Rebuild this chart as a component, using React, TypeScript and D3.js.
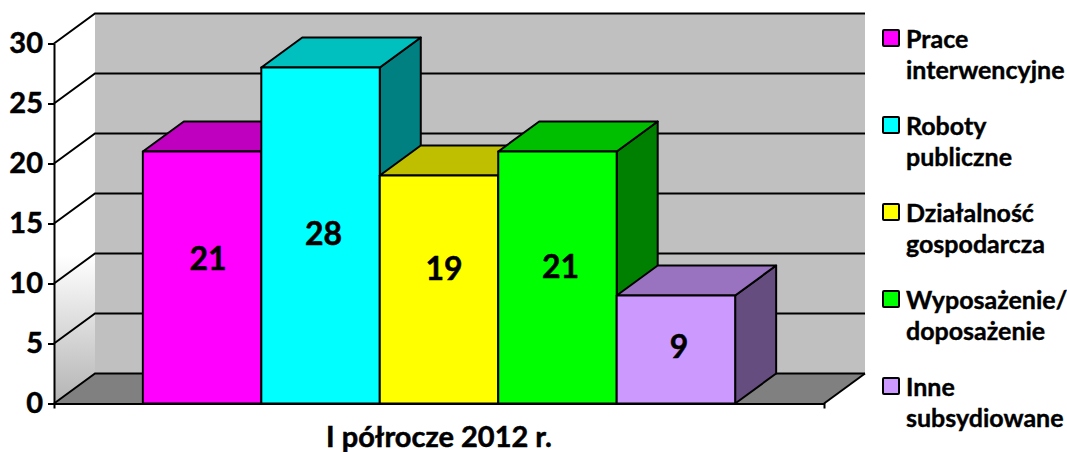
import * as d3 from "d3";
import React, { useRef, useEffect } from "react";

const seriesNames = ["Prace interwencyjne", "Roboty publiczne", "Działalność gospodarcza", "Wyposażenie/ doposażenie", "Inne subsydiowane"];
const seriesValues = [21, 28, 19, 21, 9];
const seriesColors = ["#ff00ff", "#00ffff", "#ffff00", "#00ff00", "#cc99ff"];
const legendLines = [
  ["Prace", "interwencyjne"],
  ["Roboty", "publiczne"],
  ["Działalność", "gospodarcza"],
  ["Wyposażenie/", "doposażenie"],
  ["Inne", "subsydiowane"],
];
const yTicks = [0, 5, 10, 15, 20, 25, 30];
const categoryLabel = "I półrocze 2012 r.";

const WIDTH = 1067;
const HEIGHT = 452;
const FONT = "Lato, 'Open Sans', sans-serif";
const left = 54;
const right = 824;
const bottom = 403.5;
const top = 43.5;
// 3D depth of the box
const dx = 41;
const dy = -30;
// data labels sit a little off the bar centres in the original
const labelNudge = [
  [6, -19],
  [3, -2],
  [5, -21],
  [3, -11],
  [3, -3],
];

function shade(color: string, k: number) {
  const c = d3.rgb(color);
  return d3.rgb(c.r * k, c.g * k, c.b * k).formatHex();
}

export default function App() {
  const ref = useRef<SVGSVGElement>(null);

  useEffect(() => {
    const svg = d3.select(ref.current);
    svg.selectAll("*").remove();

    const y = d3.scaleLinear().domain([0, 30]).range([bottom, top]);
    const x = d3
      .scaleBand()
      .domain(seriesNames)
      .range([left, right])
      .paddingInner(0)
      .paddingOuter(0.75);
    const line = d3.line();

    const grad = svg
      .append("defs")
      .append("linearGradient")
      .attr("id", "wall")
      .attr("x1", 0)
      .attr("y1", 0)
      .attr("x2", 0)
      .attr("y2", 1);
    grad.append("stop").attr("offset", "0.62").attr("stop-color", "#ffffff");
    grad.append("stop").attr("offset", "1").attr("stop-color", "#b4b4b4");

    // walls and floor
    svg
      .append("path")
      .attr("d", line([[left + dx, y(30) + dy], [right + dx, y(30) + dy], [right + dx, y(0) + dy], [left + dx, y(0) + dy]]) + "Z")
      .attr("fill", "#c0c0c0");
    svg
      .append("path")
      .attr("d", line([[left, y(30)], [left + dx, y(30) + dy], [left + dx, y(0) + dy], [left, y(0)]]) + "Z")
      .attr("fill", "url(#wall)");
    svg
      .append("path")
      .attr("d", line([[left, y(0)], [left + dx, y(0) + dy], [right + dx, y(0) + dy], [right, y(0)]]) + "Z")
      .attr("fill", "#808080");

    // gridlines, running over the left wall and along the back wall
    svg
      .append("g")
      .selectAll("path")
      .data(yTicks)
      .join("path")
      .attr("d", (d) => line([[left, y(d)], [left + dx, y(d) + dy], [right + dx, y(d) + dy]]))
      .attr("fill", "none")
      .attr("stroke", "#000")
      .attr("stroke-width", 2);
    svg
      .append("path")
      .attr("d", line([[right, y(0)], [right + dx, y(0) + dy]]))
      .attr("stroke", "#000")
      .attr("stroke-width", 2);

    // bars, left to right so each one covers the previous
    const bars = svg
      .append("g")
      .attr("stroke", "#000")
      .attr("stroke-width", 2)
      .attr("stroke-linejoin", "round")
      .selectAll("g")
      .data(seriesNames)
      .join("g");
    bars.each(function (name, i) {
      const g = d3.select(this);
      const x0 = x(name)!;
      const x1 = x0 + x.bandwidth();
      const yv = y(seriesValues[i]);
      g.append("path")
        .attr("d", line([[x1, yv], [x1 + dx, yv + dy], [x1 + dx, y(0) + dy], [x1, y(0)]]) + "Z")
        .attr("fill", shade(seriesColors[i], 0.5));
      g.append("path")
        .attr("d", line([[x0, yv], [x0 + dx, yv + dy], [x1 + dx, yv + dy], [x1, yv]]) + "Z")
        .attr("fill", shade(seriesColors[i], 0.75));
      g.append("rect")
        .attr("x", x0)
        .attr("y", yv)
        .attr("width", x.bandwidth())
        .attr("height", y(0) - yv)
        .attr("fill", seriesColors[i]);
    });

    // data labels
    svg
      .append("g")
      .selectAll("text")
      .data(seriesNames)
      .join("text")
      .attr("x", (d, i) => x(d)! + x.bandwidth() / 2 + labelNudge[i][0])
      .attr("y", (d, i) => (y(seriesValues[i]) + y(0)) / 2 + labelNudge[i][1])
      .attr("dy", "0.36em")
      .attr("text-anchor", "middle")
      .attr("font-family", FONT)
      .attr("font-weight", 700)
      .attr("font-size", 32)
      .attr("stroke", "#000")
      .attr("stroke-width", 0.5)
      .text((d, i) => seriesValues[i]);

    // axes
    const yAxis = svg
      .append("g")
      .attr("transform", "translate(" + left + ",0)")
      .call(d3.axisLeft(y).tickValues(yTicks).tickSize(6).tickSizeOuter(0).tickPadding(5));
    yAxis.selectAll("path,line").attr("stroke", "#000").attr("stroke-width", 2);
    yAxis
      .selectAll("text")
      .attr("font-family", FONT)
      .attr("font-weight", 700)
      .attr("font-size", 29)
      .attr("fill", "#000")
      .attr("stroke", "#000")
      .attr("stroke-width", 0.5);

    const xAxis = svg
      .append("g")
      .attr("transform", "translate(0," + bottom + ")")
      .call(d3.axisBottom(d3.scaleLinear().domain([left, right]).range([left, right])).tickValues([]).tickSize(5));
    xAxis.selectAll("path").attr("stroke", "#000").attr("stroke-width", 2);

    svg
      .append("text")
      .attr("x", 439)
      .attr("y", 446.5)
      .attr("text-anchor", "middle")
      .attr("font-family", FONT)
      .attr("font-weight", 700)
      .attr("font-size", 29)
      .attr("stroke", "#000")
      .attr("stroke-width", 0.5)
      .text(categoryLabel);

    // legend
    const legend = svg
      .append("g")
      .selectAll("g")
      .data(legendLines)
      .join("g")
      .attr("transform", (d, i) => "translate(883," + (30 + i * 87) + ")");
    legend
      .append("rect")
      .attr("width", 16)
      .attr("height", 16)
      .attr("rx", 1)
      .attr("fill", (d, i) => seriesColors[i])
      .attr("stroke", "#000")
      .attr("stroke-width", 2);
    legend
      .selectAll("text")
      .data((d) => d)
      .join("text")
      .attr("x", 23)
      .attr("y", (d, i) => 18 + i * 31)
      .attr("font-family", FONT)
      .attr("font-weight", 700)
      .attr("font-size", 25)
      .attr("stroke", "#000")
      .attr("stroke-width", 0.4)
      .text((d) => d);
  }, []);

  return <svg ref={ref} width={WIDTH} height={HEIGHT} style={{ position: "absolute", left: 0, top: 0 }} />;
}
